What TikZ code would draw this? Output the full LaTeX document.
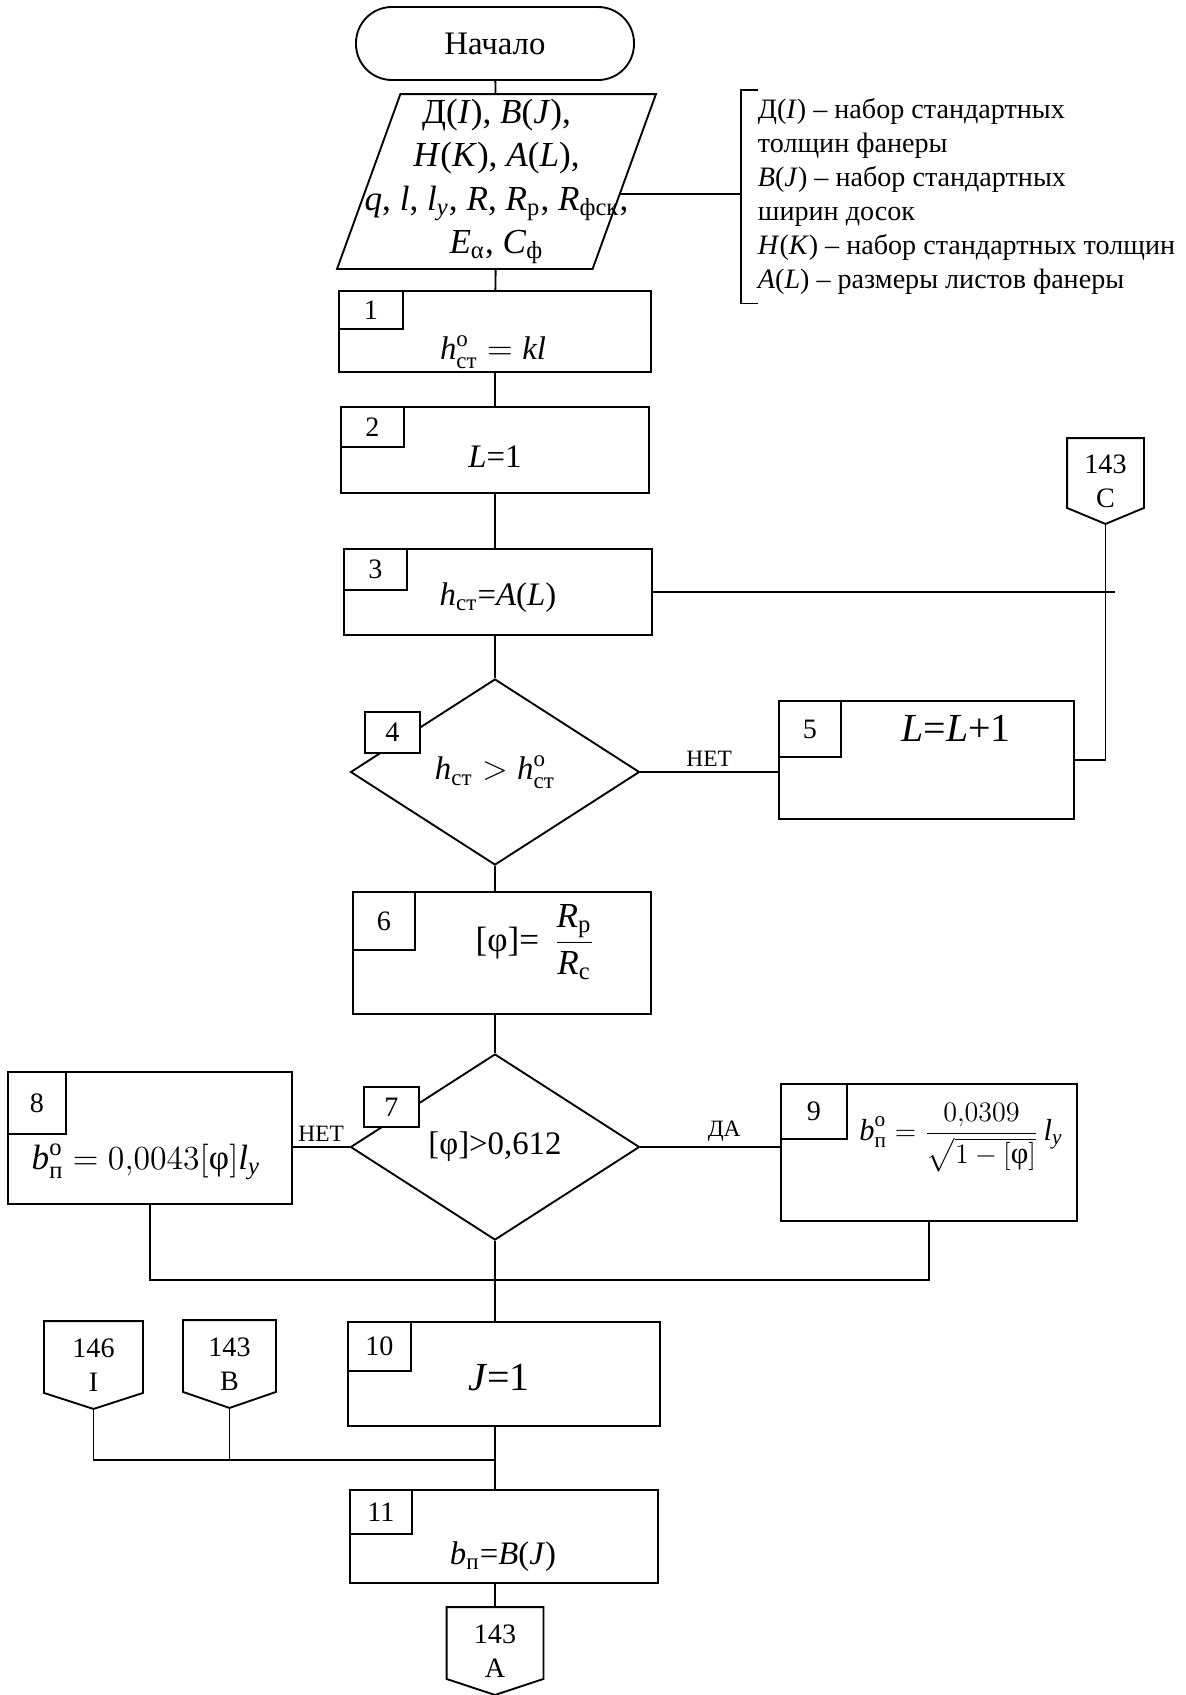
\documentclass[tikz,border=0pt]{standalone}
\usepackage{amsmath}
\usepackage{fontspec}
\setmainfont{Liberation Serif}
\usetikzlibrary{shapes.geometric,calc}

\begin{document}
\begin{tikzpicture}[
  x=0.15mm, y=-0.15mm,
  line width=0.8pt,
  font=\fontsize{14}{17}\selectfont,
  term/.style={draw, rounded corners=5.4mm, minimum width=41.7mm, minimum height=10.95mm},
  io/.style={minimum width=47.55mm, minimum height=25.95mm, inner sep=0pt, align=center,
    font=\fontsize{15}{18.5}\selectfont},
  blk/.style={draw, minimum width=46.5mm, minimum height=12.9mm, inner sep=0pt},
  tab/.style={draw, fill=white, anchor=north west, minimum width=9.45mm, minimum height=6mm,
    inner sep=0pt, font=\fontsize{12}{14}\selectfont},
  cond/.style={draw, diamond, minimum width=43.35mm, minimum height=27.9mm, inner sep=0pt},
  offpage/.style={minimum width=14.5mm, minimum height=12.9mm, align=center, inner sep=0pt,
    font=\fontsize{12}{14.5}\selectfont},
  note/.style={align=left, inner xsep=2.4mm, font=\fontsize{12}{14.5}\selectfont},
  yn/.style={font=\fontsize{10}{12}\selectfont, inner sep=2pt},
  big/.style={font=\fontsize{17}{20}\selectfont},
]
\useasboundingbox (0,0) rectangle (1186,1695);

% ---------------------------------------------------------------- start + input
\node[term] (start) at (495,43.5) {Начало};

\node[io] (inp) at (496.5,181.5)
  {Д(\textit{I}), \textit{B}(\textit{J}),\\
   \textit{H}(\textit{K}), \textit{A}(\textit{L}),\\
   \textit{q}, \textit{l}, \textit{l}\textsubscript{\textit{y}}, \textit{R}, \textit{R}\textsubscript{р}, \textit{R}\textsubscript{фск},\\
   \textit{E}\textsubscript{α}, \textit{C}\textsubscript{ф}};
\draw ([xshift=9.5mm]inp.north west) -- (inp.north east)
  -- ([xshift=-9.5mm]inp.south east) -- (inp.south west) -- cycle;
\coordinate (inpR) at ($(inp.north east)!0.57!([xshift=-9.5mm]inp.south east)$);

\node[note, anchor=north west, minimum height=30.45mm] (note) at (741,90)
  {Д(\textit{I}) -- набор стандартных\\
   толщин фанеры\\
   \textit{B}(\textit{J}) -- набор стандартных\\
   ширин досок\\
   \textit{H}(\textit{K}) -- набор стандартных толщин\\
   \textit{A}(\textit{L}) -- размеры листов фанеры};

% ---------------------------------------------------------------- blocks 1-5
\node[blk, minimum width=46.8mm, minimum height=12.15mm] (b1) at (495,331.5) {};
\node[tab, minimum width=9.6mm, minimum height=5.7mm] (n1) at (b1.north west) {1};
\node (f1) at (493,352) {$\textit{h}^{\text{o}}_{\text{ст}} = \textit{kl}$};

\node[blk, minimum width=46.2mm] (b2) at (495,450) {};
\node[tab] (n2) at (b2.north west) {2};
\node (f2) at (495,457) {\textit{L}=1};

\node[blk, minimum width=46.2mm] (b3) at (498,592) {};
\node[tab, minimum height=6.15mm] (n3) at (b3.north west) {3};
\node (f3) at (498,598) {$\textit{h}_{\text{ст}}$=\textit{A}(\textit{L})};

\node[cond] (d4) at (495,772) {$\textit{h}_{\text{ст}}> \textit{h}^{\text{o}}_{\text{ст}}$};
\node[tab, anchor=center, minimum width=8.25mm, minimum height=6.15mm] (n4) at (392.5,732.5) {4};

\node[blk, minimum width=44.25mm, minimum height=17.7mm] (b5) at (926.5,760) {};
\node[tab, minimum width=9.3mm, minimum height=8.4mm] (n5) at (b5.north west) {5};
\node[big] (f5) at (956,728) {\textit{L}=\textit{L}+1};

% ---------------------------------------------------------------- blocks 6-9
\node[blk, minimum width=44.7mm, minimum height=18.3mm] (b6) at (502,953) {};
\node[tab, minimum width=9.3mm, minimum height=8.7mm] (n6) at (b6.north west) {6};
\node[font=\fontsize{15}{18}\selectfont] (f6) at (535,942)
  {[φ]=\, $\dfrac{\textit{R}_{\text{р}}}{\textit{R}_{\text{с}}}$};

\node[cond] (d7) at (495,1147) {[φ]>0,612};
\node[tab, anchor=center, minimum width=8.25mm, minimum height=6mm] (n7) at (391.5,1107) {7};

\node[blk, minimum width=42.6mm, minimum height=19.8mm] (b8) at (150,1138) {};
\node[tab, minimum width=8.7mm, minimum height=9.3mm] (n8) at (b8.north west) {8};
\node[font=\fontsize{15}{18}\selectfont] (f8) at (146,1162)
  {$\textit{b}^{\text{o}}_{\text{п}} = 0{,}0043[\text{φ}]\textit{l}_{\textit{y}}$};

\node[blk, minimum width=44.4mm, minimum height=20.55mm] (b9) at (929,1152.5) {};
\node[tab, minimum width=9.9mm, minimum height=8.25mm] (n9) at (b9.north west) {9};
\node[font=\fontsize{13}{16}\selectfont, inner sep=0pt] (f9) at (961,1138)
  {$\textit{b}^{\text{o}}_{\text{п}} = \dfrac{0{,}0309}{\sqrt{1-[\text{φ}]}}\,\textit{l}_{\textit{y}}$};

% ---------------------------------------------------------------- blocks 10-11
\node[blk, minimum width=46.8mm, minimum height=15.6mm] (b10) at (504,1374) {};
\node[tab, minimum height=7.35mm] (n10) at (b10.north west) {10};
\node[big] (f10) at (499,1378) {\textit{J}=1};

\node[blk, minimum width=46.2mm, minimum height=13.95mm] (b11) at (504,1536.5) {};
\node[tab, minimum width=9.3mm, minimum height=6.6mm] (n11) at (b11.north west) {11};
\node (f11) at (503,1557) {$\textit{b}_{\text{п}}$=\textit{B}(\textit{J})};

% ---------------------------------------------------------------- off-page connectors
\node[offpage, minimum width=11.25mm, minimum height=12.6mm] (cC) at (1105.5,481) {143\\C};
\node[offpage, minimum width=14.55mm] (cI) at (93.5,1365) {146\\I};
\node[offpage, minimum width=13.65mm] (cB) at (229.5,1364) {143\\B};
\node[offpage, minimum width=14.25mm] (cA) at (495,1651) {143\\A};

\foreach \c in {cC,cI,cB,cA}
  \draw (\c.north west) -- (\c.north east) -- ([yshift=2.4mm]\c.south east)
        -- (\c.south) -- ([yshift=2.4mm]\c.south west) -- cycle;

% ---------------------------------------------------------------- lines
\draw (start) -- (inp);
\draw (inp) -- (b1);
\draw (b1) -- (b2);
\draw (b2) -- (b3.north -| b2.south);
\draw (b3.south -| d4.north) -- (d4.north);
\draw (d4.south) -- (d4.south |- b6.north);
\draw (d7.north |- b6.south) -- (d7.north);

% legend bracket
\draw (inpR) -- (inpR -| note.west);
\draw ([xshift=2.55mm]note.north west) -- (note.north west) -- (note.south west) -- ++(17,0);

% loop over L
\draw (d4.east) -- (d4.east -| b5.west) node[yn, midway, above] {НЕТ};
\draw (b5.east) -| (cC.south);
\draw (b3.east) -- ([xshift=1.4mm]b3.east -| cC.south);

% branches of 7
\draw (d7.west) -- (d7.west -| b8.east) node[yn, midway, above] {НЕТ};
\draw (d7.east) -- (d7.east -| b9.west) node[yn, pos=0.6, above] {ДА};

\coordinate (jn) at (495,1280);
\coordinate (jm) at (495,1460);
\draw (d7.south) -- (jn);
\draw (b8.south) |- (jn) -| (b9.south);
\draw (jn) -- (jn |- b10.north);
\draw (jn |- b10.south) -- (jn |- b11.north);
\draw (cI.south) |- (jm);
\draw (cB.south) -- (cB.south |- jm);
\draw (jn |- b11.south) -- (cA.north);

\end{tikzpicture}
\end{document}
